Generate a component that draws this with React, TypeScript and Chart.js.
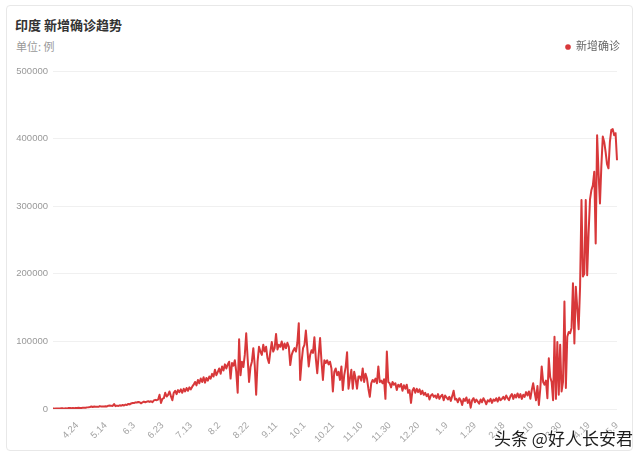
import { useEffect, useRef } from "react";
import { Chart, registerables } from "chart.js";

Chart.register(...registerables);

// Month spans of the daily series: [month, first day, last day]
const monthSpans: [number, number, number][] = [
  [4, 7, 30], [5, 1, 31], [6, 1, 30], [7, 1, 31], [8, 1, 31], [9, 1, 30], [10, 1, 31],
  [11, 1, 30], [12, 1, 31], [1, 1, 31], [2, 1, 28], [3, 1, 31], [4, 1, 30], [5, 1, 9],
];

// Daily new confirmed cases
const apr2020 = [570, 560, 810, 870, 850, 760, 1240, 1030, 890, 1060, 920, 1370, 1580, 1240, 1540, 1290, 1670, 1410, 1840, 1610, 1560, 1870, 1740, 1800];
const may2020 = [2400, 2560, 2950, 3660, 2970, 3600, 3340, 3340, 3180, 4310, 3590, 3560, 3730, 3940, 3790, 4860, 5050, 4630, 4600, 7400, 4200, 5000, 4500, 5500, 4800, 6000, 5200, 6500, 6000, 7500, 6800];
const jun2020 = [8200, 8900, 8800, 9800, 9600, 10400, 9900, 8400, 9900, 11000, 9900, 10900, 11400, 10500, 11500, 10000, 12800, 13500, 13000, 14000, 21000, 9000, 15000, 16000, 24000, 18500, 21000, 26000, 19000, 13000];
const jul2020 = [24000, 27000, 22000, 28000, 25000, 29000, 24000, 30000, 26000, 31000, 27000, 32000, 29000, 33000, 36000, 40000, 35000, 43000, 38000, 45000, 40000, 47000, 39000, 46000, 42000, 48000, 45000, 52000, 48000, 58000, 50000];
const aug2020 = [55000, 60000, 52000, 63000, 57000, 66000, 60000, 66000, 70000, 45000, 68000, 64000, 72000, 55000, 24000, 103000, 50000, 70000, 62000, 80000, 112000, 75000, 40000, 62000, 70000, 90000, 65000, 21000, 70000, 92000, 85000];
const sep2020 = [80000, 95000, 85000, 92000, 75000, 68000, 85000, 99000, 85000, 90000, 111000, 88000, 95000, 92000, 100000, 88000, 97000, 90000, 98000, 92000, 65000, 80000, 86000, 90000, 85000, 98000, 127000, 43000, 70000, 90000];
const oct2020 = [95000, 116000, 90000, 63000, 80000, 87000, 83000, 106000, 75000, 53000, 80000, 105000, 70000, 43000, 72000, 68000, 72000, 66000, 70000, 60000, 26000, 55000, 60000, 50000, 55000, 43000, 63000, 28000, 50000, 62000, 84000];
const nov2020 = [30000, 45000, 58000, 30000, 55000, 45000, 30000, 48000, 48000, 42000, 60000, 40000, 52000, 45000, 30000, 18000, 38000, 43000, 40000, 45000, 38000, 63000, 40000, 42000, 38000, 44000, 15000, 85000, 40000, 38000];
const dec2020 = [32000, 40000, 36000, 38000, 28000, 36000, 33000, 37000, 27000, 35000, 30000, 36000, 24000, 28000, 9000, 27000, 31000, 24000, 30000, 25000, 29000, 22000, 27000, 21000, 24000, 19000, 22000, 14000, 20000, 22000, 18000];
const jan2021 = [20000, 16000, 22000, 15000, 19000, 21000, 13000, 20000, 17000, 14000, 18000, 12000, 19000, 27000, 14000, 15000, 10000, 16000, 13000, 6000, 15000, 12000, 17000, 9000, 14000, 2000, 13000, 16000, 10000, 14000, 11000];
const feb2021 = [8000, 14000, 10000, 16000, 12000, 7000, 13000, 11000, 15000, 9000, 14000, 12000, 16000, 11000, 17000, 13000, 15000, 18000, 14000, 20000, 16000, 13000, 19000, 22000, 15000, 21000, 17000, 23000];
const mar2021 = [17000, 22000, 15000, 21000, 18000, 25000, 20000, 26000, 15000, 28000, 38000, 25000, 13000, 34000, 6000, 30000, 63000, 40000, 36000, 42000, 16000, 75000, 47000, 40000, 13000, 107000, 15000, 99000, 21000, 95000, 26000];
const apr2021 = [40000, 159000, 31000, 107000, 114000, 112000, 120000, 186000, 97000, 181000, 150000, 118000, 180000, 309000, 196000, 200000, 309000, 198000, 260000, 310000, 324000, 331000, 351000, 245000, 405000, 350000, 304000, 360000, 403000, 395000];
const may2021 = [380000, 362000, 356000, 395000, 413000, 414000, 405000, 408000, 368000];

const yTicks = [0, 100000, 200000, 300000, 400000, 500000];

const seriesName = "新增确诊";
const titleText = "印度 新增确诊趋势";
const unitText = "单位: 例";
const watermark = "头条 @好人长安君";

const values = [
  ...apr2020, ...may2020, ...jun2020, ...jul2020, ...aug2020, ...sep2020, ...oct2020,
  ...nov2020, ...dec2020, ...jan2021, ...feb2021, ...mar2021, ...apr2021, ...may2021,
];
const labels: string[] = [];
monthSpans.forEach(([m, a, b]) => {
  for (let d = a; d <= b; d++) labels.push(`${m}.${d}`);
});

const FONT = "'Liberation Sans', 'Noto Sans CJK SC', sans-serif";
const RED = "#d8383a";

// Adds empty space under the legend row so the plot starts lower
const legendGap = {
  id: "legendGap",
  beforeUpdate(chart: any) {
    const lg = chart.legend;
    if (lg && !lg._gapPatched) {
      const orig = lg.fit;
      lg.fit = function (this: any) {
        orig.call(this);
        this.height += 8.5;
      };
      lg._gapPatched = true;
    }
  },
};

export default function App() {
  const ref = useRef<HTMLCanvasElement | null>(null);

  useEffect(() => {
    if (!ref.current) return;
    const N = values.length;
    const chart = new Chart(ref.current, {
      type: "line",
      data: {
        labels,
        datasets: [
          {
            label: seriesName,
            data: values,
            borderColor: RED,
            backgroundColor: RED,
            borderWidth: 2,
            pointRadius: 0,
            pointHoverRadius: 0,
            pointBorderWidth: 0,
            tension: 0,
            borderJoinStyle: "round",
            fill: false,
          },
        ],
      },
      plugins: [legendGap],
      options: {
        responsive: false,
        animation: false,
        layout: { padding: { left: 0, right: 10, top: 31.5, bottom: 0 } },
        plugins: {
          legend: {
            display: true,
            position: "top",
            align: "end",
            labels: {
              usePointStyle: true,
              pointStyle: "circle",
              boxWidth: 5,
              boxHeight: 4,
              padding: 10,
              color: "#666",
              font: { size: 11, family: FONT },
            },
          },
          tooltip: { enabled: false },
        },
        scales: {
          x: {
            type: "category",
            offset: false,
            grid: { display: false },
            border: { display: false },
            ticks: {
              autoSkip: false,
              maxRotation: 45,
              minRotation: 45,
              padding: 3,
              color: "#a3a3a3",
              font: { size: 9.5, family: FONT },
              callback: (_v: any, idx: number) => ((N - 1 - idx) % 20 === 0 ? labels[idx] : null),
            },
            afterFit: (s: any) => {
              s.height = 48;
              s.paddingLeft = 0;
              s.paddingRight = 23;
            },
          },
          y: {
            min: 0,
            max: 500000,
            afterBuildTicks: (s: any) => {
              s.ticks = yTicks.map((v) => ({ value: v }));
            },
            grid: { color: "#f0f0f0", lineWidth: 1, drawTicks: false },
            border: { display: false },
            ticks: {
              padding: 5,
              color: "#999",
              font: { size: 9.5, family: FONT },
              callback: (v: any) => String(v),
            },
            afterFit: (s: any) => {
              s.width = 53;
              s.paddingTop = 0;
              s.paddingBottom = 0;
            },
          },
        },
      },
    });
    return () => chart.destroy();
  }, []);

  return (
    <div style={{ position: "absolute", left: 0, top: 0, width: 640, height: 457, background: "#fff", overflow: "hidden" }}>
      <div
        style={{
          position: "absolute", left: 6, top: 5, width: 627, height: 446, boxSizing: "border-box",
          border: "1px solid #e8e8e8", borderRadius: 4, background: "#fff",
        }}
      />
      <div
        style={{
          position: "absolute", left: 15, top: 17, lineHeight: "16px", fontSize: 13, fontWeight: "bold",
          color: "#333", fontFamily: "'Noto Sans CJK SC', sans-serif", whiteSpace: "nowrap",
        }}
      >
        {titleText}
      </div>
      <div
        style={{
          position: "absolute", left: 16, top: 39, lineHeight: "14px", fontSize: 11,
          color: "#999", fontFamily: "'Noto Sans CJK SC', sans-serif", whiteSpace: "nowrap",
        }}
      >
        {unitText}
      </div>
      <canvas ref={ref} width={640} height={457} style={{ position: "absolute", left: 0, top: 0, width: 640, height: 457 }} />
      <div
        style={{
          position: "absolute", left: 494, top: 428, lineHeight: "20px", fontSize: 17,
          color: "#1e1e1e", fontFamily: "'Noto Sans CJK SC', sans-serif", whiteSpace: "nowrap",
          textShadow: "0 0 2px #fff, 0 0 2px #fff",
        }}
      >
        {watermark}
      </div>
    </div>
  );
}
